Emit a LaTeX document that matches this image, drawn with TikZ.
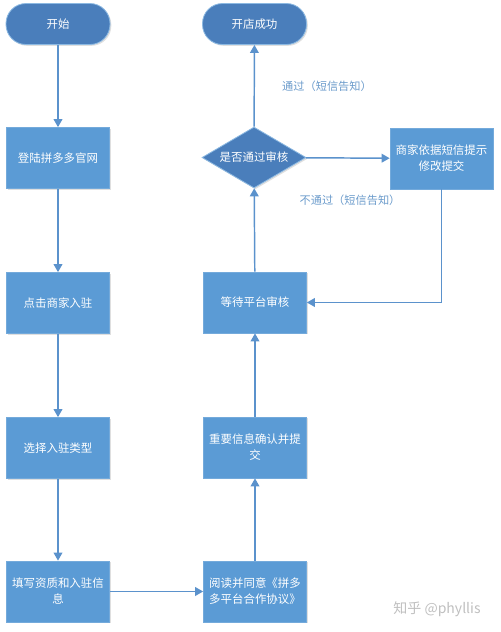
\documentclass[tikz,border=0pt]{standalone}
\usepackage{fontspec}
\setmainfont{Noto Sans CJK SC}
\usetikzlibrary{shapes.geometric,arrows.meta,shadows}
\definecolor{boxblue}{HTML}{5B9BD5}
\definecolor{termblue}{HTML}{4A7EBB}
\definecolor{lineblue}{HTML}{5B92CC}
\definecolor{labelblue}{HTML}{6B9BCB}
\tikzset{
  base/.style={text=white, font=\fontsize{8.6pt}{12pt}\selectfont, align=center, inner sep=0pt,
    drop shadow={shadow xshift=1pt, shadow yshift=-1pt, fill=black!25, opacity=0.5}},
  procbox/.style={base, rectangle, fill=boxblue, draw=boxblue!85!white, line width=0.5pt,
    minimum width=77.25pt, minimum height=45.75pt},
  termbox/.style={base, rectangle, rounded corners=15pt, fill=termblue, draw=boxblue!70!white, line width=0.6pt,
    minimum width=78pt, minimum height=30.75pt},
  decbox/.style={base, diamond, aspect=1.7, fill=termblue, draw=boxblue!70!white, line width=0.6pt,
    minimum width=78pt, minimum height=45.75pt},
  flow/.style={draw=lineblue, line width=1.1pt, -{Triangle[length=6pt,width=6.5pt]}},
  lbl/.style={text=labelblue, font=\fontsize{8.4pt}{10pt}\selectfont, inner sep=0pt},
}
\begin{document}
\begin{tikzpicture}[x=0.75pt,y=-0.75pt]
\useasboundingbox (0,0) rectangle (500,632);
\node[termbox] (start) at (58,24) {开始};
\node[termbox] (success) at (254.5,24) {开店成功};
\node[procbox] (login) at (58,158) {登陆拼多多官网};
\node[procbox] (click) at (58,303) {点击商家入驻};
\node[procbox] (select) at (58,448) {选择入驻类型};
\node[procbox] (fill) at (58,591.5) {填写资质和入驻信\\息};
\node[procbox] (read) at (255,591.5) {阅读并同意《拼多\\多平台合作协议》};
\node[procbox] (confirm) at (255,447.5) {重要信息确认并提\\交};
\node[procbox] (wait) at (255,302.5) {等待平台审核};
\node[decbox] (dec) at (254,157.5) {是否通过审核};
\node[procbox] (modify) at (441.5,158.5) {商家依据短信提示\\修改提交};
\node[lbl] (passlbl) at (327,86) {通过（短信告知）};
\node[lbl] (faillbl) at (350,200.5) {不通过（短信告知）};
\node[text=black!25, font=\fontsize{10.5pt}{12pt}\selectfont, inner sep=0pt] (wm) at (437,609) {知乎 @phyllis};
\coordinate (corner) at (modify.south |- wait.east);
\draw[flow] (start) -- (login);
\draw[flow] (login) -- (click);
\draw[flow] (click) -- (select);
\draw[flow] (select) -- (fill);
\draw[flow] (fill) -- (read);
\draw[flow] (read) -- (confirm);
\draw[flow] (confirm) -- (wait);
\draw[flow] (wait) -- (dec);
\draw[flow] (dec) -- (success);
\draw[flow] (dec) -- (modify);
\draw[flow] (modify.south) -- (corner) -- (wait.east);
\end{tikzpicture}
\end{document}
